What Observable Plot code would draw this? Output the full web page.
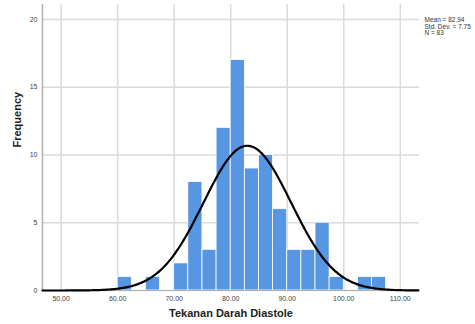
<!DOCTYPE html>
<html>
<head>
<meta charset="utf-8">
<script src="https://cdn.jsdelivr.net/npm/d3@7"></script>
<script src="https://cdn.jsdelivr.net/npm/@observablehq/plot@0.6"></script>
<style>
  html, body { margin: 0; padding: 0; background: #fff; }
  svg { display: block; }
</style>
</head>
<body>
<div id="chart"></div>
<script>
// Histogram bins (lower edge, upper edge) and frequencies
const binStart = [60, 65, 70, 72.5, 75, 77.5, 80, 82.5, 85, 87.5, 90, 92.5, 95, 97.5, 102.5, 105];
const binWidth = 2.5;
const counts   = [1, 1, 2, 8, 3, 12, 17, 9, 10, 6, 3, 3, 5, 1, 1, 1];
const xTicks = [50, 60, 70, 80, 90, 100, 110];
const yTicks = [0, 5, 10, 15, 20];
const mean = 82.94, sd = 7.75, n = 83;
const statLines = ["Mean = 82.94", "Std. Dev. = 7.75", "N = 83"];

const bins = binStart.map((s, i) => ({x1: s, x2: s + binWidth, y: counts[i]}));
const xDomain = [46.7, 113.4];
// fitted normal curve scaled to frequencies
const curve = d3.range(xDomain[0], xDomain[1] + 0.01, 0.25).map(x => ({
  x,
  y: n * binWidth * Math.exp(-0.5 * ((x - mean) / sd) ** 2) / (sd * Math.sqrt(2 * Math.PI))
}));

const chart = Plot.plot({
  width: 475,
  height: 324,
  marginLeft: 42,
  marginRight: 56,
  marginTop: 4,
  marginBottom: 34,
  style: {fontFamily: "'Liberation Sans', Arial, sans-serif", background: "#fff"},
  x: {domain: xDomain, ticks: xTicks},
  y: {domain: [0, 21.1], ticks: yTicks},
  marks: [
    Plot.gridX(xTicks, {stroke: "#dadada", strokeOpacity: 1, strokeWidth: 1.5}),
    Plot.gridY(yTicks, {stroke: "#dadada", strokeOpacity: 1, strokeWidth: 1.5}),
    Plot.rectY(bins, {x1: "x1", x2: "x2", y: "y", fill: "#5796e3", stroke: "#ffffff", strokeWidth: 0.8}),
    Plot.ruleX([xDomain[0]], {stroke: "#b0b0b0", strokeWidth: 1.5}),
    Plot.ruleY([0], {stroke: "#b0b0b0", strokeWidth: 1}),
    Plot.line(curve, {x: "x", y: "y", stroke: "#000", strokeWidth: 2.2, curve: "basis"}),
    Plot.axisX(xTicks, {tickSize: 0, tickPadding: 6, fontSize: 7, fill: "#444", tickFormat: d3.format(".2f"), label: null}),
    Plot.axisY(yTicks, {tickSize: 0, tickPadding: 5, fontSize: 7, fill: "#444", label: null}),
    Plot.text(["Tekanan Darah Diastole"], {frameAnchor: "bottom", dy: 26, fontSize: 11, fontWeight: "bold", fill: "#222"}),
    Plot.text(["Frequency"], {frameAnchor: "left", dx: -25, rotate: -90, fontSize: 11, fontWeight: "bold", fill: "#222"}),
    Plot.text([statLines.join("\n")], {frameAnchor: "top-right", dx: 5, dy: 13, textAnchor: "start", lineAnchor: "top", lineHeight: 1.0, fontSize: 6.5, fill: "#333"})
  ]
});
document.getElementById("chart").appendChild(chart);
</script>
</body>
</html>
